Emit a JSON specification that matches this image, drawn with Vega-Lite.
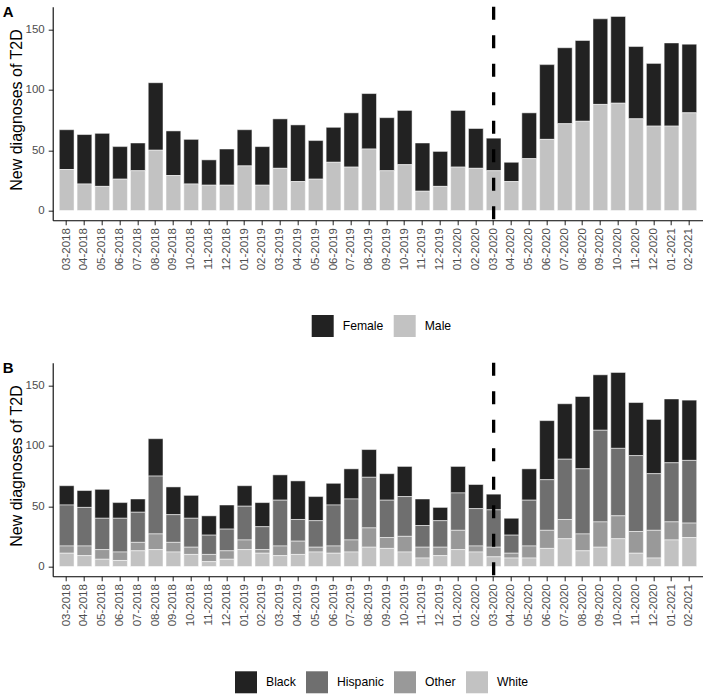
{
  "$schema": "https://vega.github.io/schema/vega-lite/v6.json",
  "padding": {"left": 2.7, "top": 4.7, "right": 0, "bottom": 0},
  "autosize": {"type": "pad"},
  "background": "white",
  "config": {
    "font": "Liberation Sans",
    "view": {"stroke": null},
    "axis": {"grid": false, "domainColor": "black", "domainWidth": 1.1, "tickColor": "#333333", "tickSize": 4.5, "tickWidth": 1.1, "labelColor": "#4d4d4d", "labelFontSize": 11.5, "labelFont": "Liberation Sans", "titleFont": "Liberation Sans", "titleFontSize": 16, "titleFontWeight": "normal", "titleColor": "black"},
    "legend": {"labelFontSize": 12.2, "labelFont": "Liberation Sans", "labelColor": "black", "symbolType": "square", "symbolSize": 484, "symbolStrokeWidth": 0, "symbolOpacity": 1, "labelOffset": 9, "columnPadding": 10, "padding": 0},
    "title": {"anchor": "start", "frame": "group", "fontSize": 15, "fontWeight": "bold", "color": "black", "font": "Liberation Sans", "offset": 0, "dx": -50, "dy": 18.8, "baseline": "alphabetic"}
  },
  "datasets": {
    "sex": [
      {"month": "03-2018", "Female": 33, "Male": 34},
      {"month": "04-2018", "Female": 41, "Male": 22},
      {"month": "05-2018", "Female": 44, "Male": 20},
      {"month": "06-2018", "Female": 27, "Male": 26},
      {"month": "07-2018", "Female": 23, "Male": 33},
      {"month": "08-2018", "Female": 56, "Male": 50},
      {"month": "09-2018", "Female": 37, "Male": 29},
      {"month": "10-2018", "Female": 37, "Male": 22},
      {"month": "11-2018", "Female": 21, "Male": 21},
      {"month": "12-2018", "Female": 30, "Male": 21},
      {"month": "01-2019", "Female": 30, "Male": 37},
      {"month": "02-2019", "Female": 32, "Male": 21},
      {"month": "03-2019", "Female": 41, "Male": 35},
      {"month": "04-2019", "Female": 47, "Male": 24},
      {"month": "05-2019", "Female": 32, "Male": 26},
      {"month": "06-2019", "Female": 29, "Male": 40},
      {"month": "07-2019", "Female": 45, "Male": 36},
      {"month": "08-2019", "Female": 46, "Male": 51},
      {"month": "09-2019", "Female": 44, "Male": 33},
      {"month": "10-2019", "Female": 45, "Male": 38},
      {"month": "11-2019", "Female": 40, "Male": 16},
      {"month": "12-2019", "Female": 29, "Male": 20},
      {"month": "01-2020", "Female": 47, "Male": 36},
      {"month": "02-2020", "Female": 33, "Male": 35},
      {"month": "03-2020", "Female": 27, "Male": 33},
      {"month": "04-2020", "Female": 16, "Male": 24},
      {"month": "05-2020", "Female": 38, "Male": 43},
      {"month": "06-2020", "Female": 62, "Male": 59},
      {"month": "07-2020", "Female": 63, "Male": 72},
      {"month": "08-2020", "Female": 67, "Male": 74},
      {"month": "09-2020", "Female": 71, "Male": 88},
      {"month": "10-2020", "Female": 72, "Male": 89},
      {"month": "11-2020", "Female": 60, "Male": 76},
      {"month": "12-2020", "Female": 52, "Male": 70},
      {"month": "01-2021", "Female": 69, "Male": 70},
      {"month": "02-2021", "Female": 57, "Male": 81}
    ],
    "race": [
      {"month": "03-2018", "White": 11, "Other": 6, "Hispanic": 34, "Black": 16},
      {"month": "04-2018", "White": 9, "Other": 8, "Hispanic": 32, "Black": 14},
      {"month": "05-2018", "White": 6, "Other": 8, "Hispanic": 26, "Black": 24},
      {"month": "06-2018", "White": 5, "Other": 7, "Hispanic": 28, "Black": 13},
      {"month": "07-2018", "White": 13, "Other": 7, "Hispanic": 25, "Black": 11},
      {"month": "08-2018", "White": 14, "Other": 13, "Hispanic": 48, "Black": 31},
      {"month": "09-2018", "White": 12, "Other": 8, "Hispanic": 23, "Black": 23},
      {"month": "10-2018", "White": 10, "Other": 6, "Hispanic": 24, "Black": 19},
      {"month": "11-2018", "White": 4, "Other": 6, "Hispanic": 16, "Black": 16},
      {"month": "12-2018", "White": 6, "Other": 7, "Hispanic": 18, "Black": 20},
      {"month": "01-2019", "White": 14, "Other": 8, "Hispanic": 28, "Black": 17},
      {"month": "02-2019", "White": 11, "Other": 3, "Hispanic": 19, "Black": 20},
      {"month": "03-2019", "White": 9, "Other": 8, "Hispanic": 38, "Black": 21},
      {"month": "04-2019", "White": 10, "Other": 11, "Hispanic": 18, "Black": 32},
      {"month": "05-2019", "White": 12, "Other": 4, "Hispanic": 22, "Black": 20},
      {"month": "06-2019", "White": 11, "Other": 6, "Hispanic": 34, "Black": 18},
      {"month": "07-2019", "White": 12, "Other": 10, "Hispanic": 34, "Black": 25},
      {"month": "08-2019", "White": 16, "Other": 16, "Hispanic": 42, "Black": 23},
      {"month": "09-2019", "White": 15, "Other": 9, "Hispanic": 31, "Black": 22},
      {"month": "10-2019", "White": 12, "Other": 13, "Hispanic": 33, "Black": 25},
      {"month": "11-2019", "White": 7, "Other": 9, "Hispanic": 18, "Black": 22},
      {"month": "12-2019", "White": 9, "Other": 7, "Hispanic": 22, "Black": 11},
      {"month": "01-2020", "White": 14, "Other": 16, "Hispanic": 31, "Black": 22},
      {"month": "02-2020", "White": 12, "Other": 5, "Hispanic": 31, "Black": 20},
      {"month": "03-2020", "White": 8, "Other": 8, "Hispanic": 31, "Black": 13},
      {"month": "04-2020", "White": 7, "Other": 4, "Hispanic": 15, "Black": 14},
      {"month": "05-2020", "White": 7, "Other": 10, "Hispanic": 38, "Black": 26},
      {"month": "06-2020", "White": 15, "Other": 15, "Hispanic": 42, "Black": 49},
      {"month": "07-2020", "White": 23, "Other": 16, "Hispanic": 50, "Black": 46},
      {"month": "08-2020", "White": 13, "Other": 14, "Hispanic": 54, "Black": 60},
      {"month": "09-2020", "White": 16, "Other": 21, "Hispanic": 76, "Black": 46},
      {"month": "10-2020", "White": 23, "Other": 19, "Hispanic": 56, "Black": 63},
      {"month": "11-2020", "White": 11, "Other": 18, "Hispanic": 63, "Black": 44},
      {"month": "12-2020", "White": 7, "Other": 23, "Hispanic": 47, "Black": 45},
      {"month": "01-2021", "White": 22, "Other": 15, "Hispanic": 49, "Black": 53},
      {"month": "02-2021", "White": 24, "Other": 12, "Hispanic": 52, "Black": 50}
    ],
    "cutoff": [{"month": "03-2020"}]
  },
  "spacing": 142,
  "bounds": "flush",
  "resolve": {"scale": {"color": "independent"}, "legend": {"color": "independent"}},
  "vconcat": [
    {
      "width": 650.6,
      "height": 213.5,
      "title": {"text": "A"},
      "layer": [
        {
          "data": {"name": "sex"},
          "transform": [{"fold": ["Female", "Male"], "as": ["sex", "n"]}],
          "mark": {"type": "bar", "stroke": "white", "strokeWidth": 0.5},
          "encoding": {
            "x": {"field": "month", "type": "nominal",
              "scale": {"domain": ["03-2018","04-2018","05-2018","06-2018","07-2018","08-2018","09-2018","10-2018","11-2018","12-2018","01-2019","02-2019","03-2019","04-2019","05-2019","06-2019","07-2019","08-2019","09-2019","10-2019","11-2019","12-2019","01-2020","02-2020","03-2020","04-2020","05-2020","06-2020","07-2020","08-2020","09-2020","10-2020","11-2020","12-2020","01-2021","02-2021"], "paddingInner": 0.17, "paddingOuter": 0.37},
              "axis": {"title": null, "labelAngle": -90, "labelAlign": "right", "labelBaseline": "middle", "labelPadding": 3}},
            "y": {"field": "n", "type": "quantitative", "stack": "zero",
              "scale": {"domain": [-8.05, 169.05], "nice": false, "zero": false},
              "axis": {"title": "New diagnoses of T2D", "values": [0, 50, 100, 150], "labelPadding": 4, "titleX": -36, "titleY": 102.8, "titleAlign": "center", "titleBaseline": "middle", "titleAngle": -90}},
            "color": {"field": "sex", "type": "nominal",
              "scale": {"domain": ["Female", "Male"], "range": ["#222222", "#c2c2c2"]},
              "legend": {"orient": "none", "legendX": 259, "legendY": 308.3, "direction": "horizontal", "title": null}},
            "order": {"field": "sex", "sort": "descending"}
          }
        },
        {
          "data": {"name": "cutoff"},
          "mark": {"type": "rule", "strokeDash": [13, 15.5], "strokeWidth": 3.3, "color": "black"},
          "encoding": {"x": {"field": "month", "type": "nominal"}}
        }
      ]
    },
    {
      "width": 650.6,
      "height": 213.5,
      "title": {"text": "B"},
      "layer": [
        {
          "data": {"name": "race"},
          "transform": [{"fold": ["Black", "Hispanic", "Other", "White"], "as": ["race", "n"]}],
          "mark": {"type": "bar", "stroke": "white", "strokeWidth": 0.5},
          "encoding": {
            "x": {"field": "month", "type": "nominal",
              "scale": {"domain": ["03-2018","04-2018","05-2018","06-2018","07-2018","08-2018","09-2018","10-2018","11-2018","12-2018","01-2019","02-2019","03-2019","04-2019","05-2019","06-2019","07-2019","08-2019","09-2019","10-2019","11-2019","12-2019","01-2020","02-2020","03-2020","04-2020","05-2020","06-2020","07-2020","08-2020","09-2020","10-2020","11-2020","12-2020","01-2021","02-2021"], "paddingInner": 0.17, "paddingOuter": 0.37},
              "axis": {"title": null, "labelAngle": -90, "labelAlign": "right", "labelBaseline": "middle", "labelPadding": 3}},
            "y": {"field": "n", "type": "quantitative", "stack": "zero",
              "scale": {"domain": [-8.05, 169.05], "nice": false, "zero": false},
              "axis": {"title": "New diagnoses of T2D", "values": [0, 50, 100, 150], "labelPadding": 4, "titleX": -36, "titleY": 102.8, "titleAlign": "center", "titleBaseline": "middle", "titleAngle": -90}},
            "color": {"field": "race", "type": "nominal",
              "scale": {"domain": ["Black", "Hispanic", "Other", "White"], "range": ["#222222", "#6f6f6f", "#999999", "#c2c2c2"]},
              "legend": {"orient": "none", "legendX": 182.3, "legendY": 308.6, "direction": "horizontal", "title": null}},
            "order": {"field": "race", "sort": "descending"}
          }
        },
        {
          "data": {"name": "cutoff"},
          "mark": {"type": "rule", "strokeDash": [13, 15.5], "strokeWidth": 3.3, "color": "black"},
          "encoding": {"x": {"field": "month", "type": "nominal"}}
        }
      ]
    }
  ]
}
